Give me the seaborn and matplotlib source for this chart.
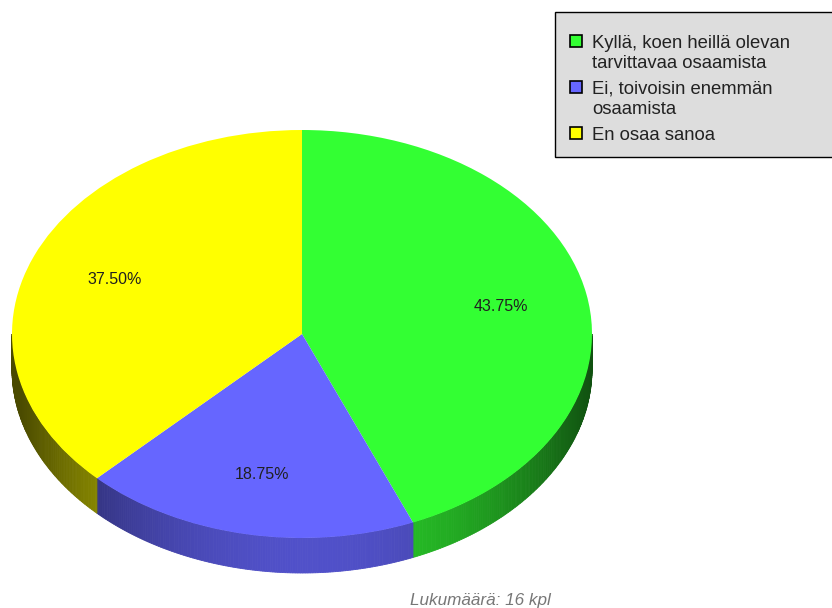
import numpy as np
import matplotlib
matplotlib.use("Agg")
import matplotlib.pyplot as plt
import matplotlib.colors as mcolors
from matplotlib.patches import Rectangle
import seaborn as sns

# vastaukset
labels = ["Kyllä, koen heillä olevan\ntarvittavaa osaamista",
          "Ei, toivoisin enemmän\nosaamista",
          "En osaa sanoa"]
counts = [7, 3, 6]
colors = ["#33ff33", "#6666ff", "#ffff00"]
footer = "Lukumäärä: 16 kpl"

sns.set_theme(style="white")
plt.rcParams['font.family'] = ['Liberation Sans', 'DejaVu Sans']

W, H = 832, 608
cx, cy, rx, ry = 302, 334, 290, 204   # ellipsin keskipiste ja säteet pikseleinä
depth = 35 / ry                       # reunan korkeus yksikköympyrän mitoissa

fig = plt.figure(figsize=(W / 100, H / 100), dpi=100)
ax = fig.add_axes([0, 0, 1, 1])

# sivureuna (3d-vaikutelma), varjostus x-sijainnin mukaan
total = sum(counts)
start = 90.0
for n, col in zip(counts, colors):
    span = 360.0 * n / total
    a0, a1 = start - span, start
    start = a0
    base = np.array(mcolors.to_rgb(col))
    for shift in (0, 360):
        lo, hi = max(a0 + shift, -180), min(a1 + shift, 0)
        if hi <= lo:
            continue
        t = np.linspace(lo, hi, int((hi - lo) * 2) + 2)
        for i in range(len(t) - 1):
            ta, tb = np.radians(t[i]), np.radians(t[i + 1])
            xs = [np.cos(ta), np.cos(tb), np.cos(tb), np.cos(ta)]
            ys = [np.sin(ta), np.sin(tb), np.sin(tb) - depth, np.sin(ta) - depth]
            u = (np.cos((ta + tb) / 2) * rx + cx - 310) / 290
            f = 0.29 + 0.5 * max(0, 1 - u * u)
            c = np.clip(base * f, 0, 1)
            ax.fill(xs, ys, color=c, lw=0.6, zorder=1)

wedges, texts, autotexts = ax.pie(
    counts, colors=colors, startangle=90, counterclock=False,
    autopct='%.2f%%', pctdistance=0.7, radius=1,
    wedgeprops=dict(linewidth=0, zorder=2),
    textprops=dict(fontsize=11.5, color='#202020'))
for t in autotexts:
    t.set_zorder(3)

ax.set_aspect('auto')
ax.set_xlim(-cx / rx, (W - cx) / rx)
ax.set_ylim(-(H - cy) / ry, cy / ry)
ax.axis('off')

# selite piirretään itse, jotta merkki osuu ensimmäiselle riville
def px(x, y):
    return x / W, 1 - y / H

lx, ly = px(555, 157)
fig.patches.append(Rectangle((lx, ly), 285 / W, 145 / H, transform=fig.transFigure,
                             facecolor='#dddddd', edgecolor='black', lw=1))
y = 41
for lab, col in zip(labels, colors):
    mx, my = px(570, y + 6)
    fig.patches.append(Rectangle((mx, my), 12 / W, 12 / H, transform=fig.transFigure,
                                 facecolor=col, edgecolor='black', lw=1.2))
    for line in lab.split("\n"):
        fig.text(*px(592, y), line, ha='left', va='center_baseline',
                 fontsize=13.3, color='#222222')
        y += 21
    y += 4

fig.text(480 / W, 1 - 600 / H, footer, ha='center', va='center',
         fontsize=12.3, style='italic', color='#777777')

fig.savefig("out.png", dpi=100)
